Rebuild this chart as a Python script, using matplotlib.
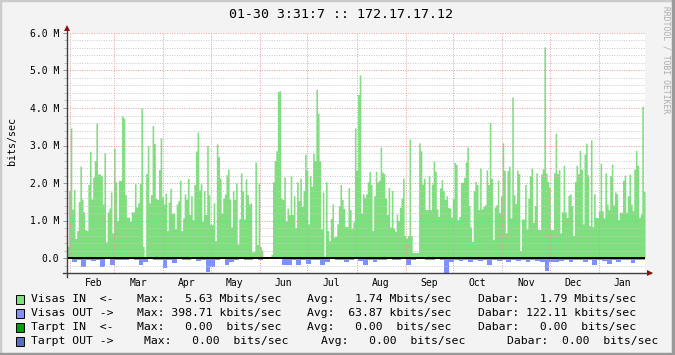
import matplotlib
matplotlib.use("Agg")
import matplotlib.pyplot as plt
import matplotlib.dates as mdates
from matplotlib.ticker import MultipleLocator, FuncFormatter, NullFormatter
from matplotlib.lines import Line2D
from matplotlib.patches import Rectangle
import numpy as np
import datetime as dt

# ---------------- data ----------------
title = "01-30 3:31:7 :: 172.17.17.12"
ylabel = "bits/sec"
watermark = "RRDTOOL / TOBI OETIKER"
start = dt.datetime(2010, 1, 30, 3, 31)
end = dt.datetime(2011, 1, 30, 3, 31)

# Visas IN (Mbits/sec), daily
visas_in = [
    0.31, 1.8, 3.47, 1.3, 1.83, 0.52, 0.73, 1.5, 2.45, 1.57, 1.23, 0.76, 0.73, 1.96, 2.84, 1.57,
    2.16, 2.6, 3.6, 2.24, 2.24, 2.2, 1.44, 2.8, 0.43, 1.23, 1.33, 1.76, 0.67, 2.93, 2.03, 1.0,
    2.07, 2.07, 3.79, 3.73, 1.69, 1.09, 1.09, 0.98, 1.23, 1.23, 1.98, 1.36, 1.47, 1.98, 4.0, 0.31,
    0.0, 2.25, 3.0, 1.47, 1.69, 3.53, 3.05,
    1.6, 1.56, 2.36, 3.2, 1.64, 1.44, 1.73, 0.73, 1.49, 1.86, 1.18, 1.2, 0.78, 1.44, 1.53, 2.07,
    0.73, 1.07, 1.71, 1.57, 2.12, 1.16, 1.66, 1.02, 1.96, 2.85, 3.36, 1.82, 1.98, 0.98, 1.8, 1.16,
    3.0, 1.69, 0.89, 0.89, 1.47, 0.46, 3.04, 2.7, 2.13, 1.2, 1.6, 1.71, 2.22, 2.37, 1.57, 0.83,
    1.8, 1.56, 2.0, 0.37, 1.05, 2.27, 1.8, 1.04, 2.11, 1.69, 1.44,
    1.47, 0.16, 0.18, 2.56, 0.36, 2.0, 0.31, 0.22, 0.0, 0.0, 0.0, 0.0, 0.0, 0.1, 2.03, 2.6,
    2.86, 4.44, 4.46, 1.6, 1.56, 2.16, 0.98, 1.33, 1.16, 2.2, 1.16, 1.66, 0.8, 2.03, 1.53, 2.13,
    1.38, 1.8, 2.77, 2.34, 0.91, 2.2, 1.91, 2.79, 2.6, 4.5, 3.86, 2.6, 0.78, 1.76, 0.05, 2.03,
    0.73, 0.46, 1.05, 1.44, 0.56, 0.58, 0.91, 1.4, 1.96, 1.56, 1.32, 0.84, 0.84, 1.88,
    1.29, 0.78, 0.96, 3.47, 2.34, 4.36, 4.88, 1.2, 1.71, 1.62, 1.71, 2.03, 2.31, 1.96, 0.73, 1.66,
    2.31, 2.03, 2.07, 2.96, 2.29, 2.25, 1.6, 1.16, 1.88, 0.83, 1.8, 0.8, 0.71, 1.17, 1.0, 1.35,
    1.6, 2.13, 0.6, 0.53, 0.6, 3.17, 0.6, 0.15, 0.15, 0.15, 0.15, 3.07, 2.86, 1.97, 2.13, 1.29,
    1.29, 2.2, 1.29, 1.97, 2.58, 2.31, 1.31, 1.11, 1.87, 2.09, 1.8, 1.56, 1.66, 1.35,
    1.33, 1.09, 1.58, 2.55, 2.5, 1.02, 1.11, 2.02, 2.02, 2.15, 2.56, 2.96, 1.4, 0.83, 0.44, 1.8,
    2.04, 1.96, 1.29, 2.4, 1.31, 1.38, 1.42, 2.35, 1.96, 3.62, 2.12, 0.49, 1.36, 1.42, 2.08, 1.22,
    1.66, 3.07, 2.34, 0.67, 2.33, 2.45, 1.07, 4.29, 1.69, 1.45, 2.34, 2.25, 0.2, 1.04, 1.04, 1.96,
    0.77, 1.6, 2.2, 2.4, 0.95, 1.4, 2.27, 0.77, 0.76, 2.24, 2.38, 5.63,
    2.27, 2.04, 1.89, 0.76, 0.76, 2.27, 3.33, 2.25, 2.36, 0.67, 1.23, 2.47, 1.23, 1.08, 1.67, 1.71,
    1.4, 0.6, 2.04, 2.47, 2.25, 2.87, 2.37, 0.91, 2.77, 3.06, 2.22, 0.86, 3.15, 0.84, 1.71, 1.08,
    1.08, 1.26, 2.53, 1.26, 1.07, 2.27, 1.44, 1.29, 2.2, 2.5, 1.42, 1.76, 1.71, 1.02, 1.22, 1.22,
    2.07, 2.21, 1.22, 1.66, 2.24, 1.44, 1.26, 2.37, 2.87, 2.47, 1.08, 1.17, 4.05, 1.78,
]

# Visas OUT (Mbits/sec, drawn negative), ~3-day resolution
visas_out = [
    0.04, 0.12, 0.05, 0.23, 0.05, 0.08, 0.05, 0.23, 0.04, 0.18, 0.05, 0.05, 0.06, 0.04, 0.06, 0.2,
    0.1, 0.04, 0.06, 0.05, 0.28, 0.05, 0.13, 0.04, 0.05, 0.06, 0.04, 0.07, 0.05, 0.37, 0.23, 0.05,
    0.04, 0.2, 0.1, 0.05, 0.04, 0.06, 0.05, 0.04, 0.05, 0.03, 0.0, 0.0, 0.02, 0.18, 0.18, 0.05,
    0.2, 0.05, 0.15, 0.05, 0.06, 0.18, 0.12, 0.04, 0.06, 0.05, 0.1, 0.05, 0.04, 0.07, 0.18, 0.06,
    0.1, 0.05, 0.06, 0.04, 0.05, 0.06, 0.04, 0.18, 0.05, 0.01, 0.02, 0.05, 0.06, 0.04, 0.05, 0.3987,
    0.1, 0.05, 0.08, 0.06, 0.1, 0.05, 0.08, 0.06, 0.18, 0.05, 0.07, 0.05, 0.1, 0.06, 0.08, 0.05,
    0.1, 0.06, 0.08, 0.1, 0.34, 0.12, 0.1, 0.08, 0.06, 0.12, 0.05, 0.06, 0.1, 0.06, 0.2, 0.05,
    0.08, 0.15, 0.05, 0.1, 0.06, 0.05, 0.13, 0.05, 0.05,
]

legend_labels = ["Visas IN  <-", "Visas OUT ->", "Tarpt IN  <-", "Tarpt OUT ->"]
legend_max = ["Max:   5.63 Mbits/sec", "Max: 398.71 kbits/sec", "Max:   0.00  bits/sec", "Max:   0.00  bits/sec"]
legend_avg = ["Avg:   1.74 Mbits/sec", "Avg:  63.87 kbits/sec", "Avg:   0.00  bits/sec", "Avg:   0.00  bits/sec"]
legend_cur = ["Dabar:   1.79 Mbits/sec", "Dabar: 122.11 kbits/sec", "Dabar:   0.00  bits/sec", "Dabar:  0.00  bits/sec"]
legend_colors = ["#7fdf7f", "#7f8fff", "#00a000", "#5570c0"]

# ---------------- figure ----------------
W, H = 675, 355
fig = plt.figure(figsize=(W / 100, H / 100), dpi=100)
fig.patch.set_facecolor("#f3f3f3")
MONO = ["DejaVu Sans Mono"]

def fx(x):
    return x / W

def fy(y):
    return 1 - y / H

# frame shading
fig.patches.append(Rectangle((0, 0), 1, 1, transform=fig.transFigure, fill=False,
                             edgecolor="#cbcbcb", linewidth=2.5))
fig.add_artist(Line2D([0, 1], [0.003, 0.003], transform=fig.transFigure, color="#9a9a9a", lw=2.5))
fig.add_artist(Line2D([0.997, 0.997], [0, 1], transform=fig.transFigure, color="#9a9a9a", lw=2.5))

x0, x1, yt, yb = 67, 645, 33, 273
ax = fig.add_axes([fx(x0), fy(yb), (x1 - x0) / W, (yb - yt) / H])
ax.set_facecolor("white")

sd = mdates.date2num(start)
ed = mdates.date2num(end)
vin = np.array(visas_in) * 1e6
vout = -np.array(visas_out) * 1e6
edges_in = np.linspace(sd, ed, len(vin) + 1)
edges_out = np.linspace(sd, ed, len(vout) + 1)

ax.fill_between(edges_in, np.append(vin, vin[-1]), 0, step="post", color="#7fdf7f",
                linewidth=0, antialiased=False, zorder=1)
ax.fill_between(edges_out, np.append(vout, vout[-1]), 0, step="post", color="#7f8fff",
                linewidth=0, antialiased=False, zorder=1)
ax.axhline(0, color="black", lw=1.4, zorder=4)

ax.set_xlim(sd, ed)
ax.set_ylim(-0.4e6, 6.0e6)

ax.yaxis.set_major_locator(MultipleLocator(1e6))
ax.yaxis.set_minor_locator(MultipleLocator(2e5))
ax.yaxis.set_major_formatter(FuncFormatter(lambda v, p: "0.0" if abs(v) < 1 else f"{v/1e6:.1f} M"))
ax.xaxis.set_major_locator(mdates.MonthLocator())
ax.xaxis.set_major_formatter(NullFormatter())
ax.xaxis.set_minor_locator(mdates.MonthLocator(bymonthday=16))
ax.xaxis.set_minor_formatter(mdates.DateFormatter("%b"))

ax.set_axisbelow(False)
ax.grid(which="minor", axis="y", color="#c8c8c8", linestyle=(0, (1, 1.5)), linewidth=0.7)
ax.grid(which="major", axis="y", color="#e49a9a", linestyle=(0, (1, 1.5)), linewidth=0.7)
ax.grid(which="major", axis="x", color="#e49a9a", linestyle=(0, (1, 1.5)), linewidth=0.7)

ax.tick_params(axis="y", which="major", length=3, width=0.6, color="#888888", pad=2.5,
               labelsize=7)
ax.tick_params(axis="y", which="minor", length=2, width=0.5, color="#aaaaaa")
ax.tick_params(axis="x", which="both", length=0, pad=3.5, labelsize=7)
for lab in ax.get_yticklabels() + ax.get_xticklabels(which="both"):
    lab.set_family(MONO)

for s in ax.spines.values():
    s.set_visible(False)

# axes lines with arrows
axis_col = "#404040"
arrow_col = "#8b1010"
fig.add_artist(Line2D([fx(x0), fx(x0)], [fy(yb + 4), fy(28)], color=axis_col, lw=1.0))
fig.add_artist(Line2D([fx(x0 - 4), fx(651)], [fy(yb), fy(yb)], color=axis_col, lw=1.0))
fig.add_artist(Line2D([fx(x0)], [fy(28)], marker="^", markersize=5, color=arrow_col,
                      markeredgewidth=0))
fig.add_artist(Line2D([fx(650)], [fy(yb)], marker=">", markersize=5, color=arrow_col,
                      markeredgewidth=0))

# texts
fig.text(fx(341), fy(14), title, ha="center", va="center", fontsize=9.5, family=MONO)
fig.text(fx(12), fy(141), ylabel, ha="center", va="center", rotation=90, fontsize=7.2, family=MONO)
fig.text(fx(666), fy(60), watermark, ha="center", va="center", rotation=270, fontsize=5.8,
         family=MONO, color="#ababab")

# legend
row_y = [299, 313, 327, 341]
max_x = [137, 137, 137, 144]
avg_x = [307, 307, 307, 321]
cur_x = [478, 478, 478, 507]
for i in range(4):
    y = row_y[i]
    fig.patches.append(Rectangle((fx(15.5), fy(y + 4.5)), 8.5 / W, 9 / H, transform=fig.transFigure,
                                 facecolor=legend_colors[i], edgecolor="black", linewidth=0.7))
    fig.text(fx(31), fy(y), legend_labels[i], ha="left", va="center", fontsize=8.2, family=MONO)
    fig.text(fx(max_x[i]), fy(y), legend_max[i], ha="left", va="center", fontsize=8.2, family=MONO)
    fig.text(fx(avg_x[i]), fy(y), legend_avg[i], ha="left", va="center", fontsize=8.2, family=MONO)
    fig.text(fx(cur_x[i]), fy(y), legend_cur[i], ha="left", va="center", fontsize=8.2, family=MONO)

fig.savefig("out.png", dpi=100, facecolor=fig.get_facecolor())
